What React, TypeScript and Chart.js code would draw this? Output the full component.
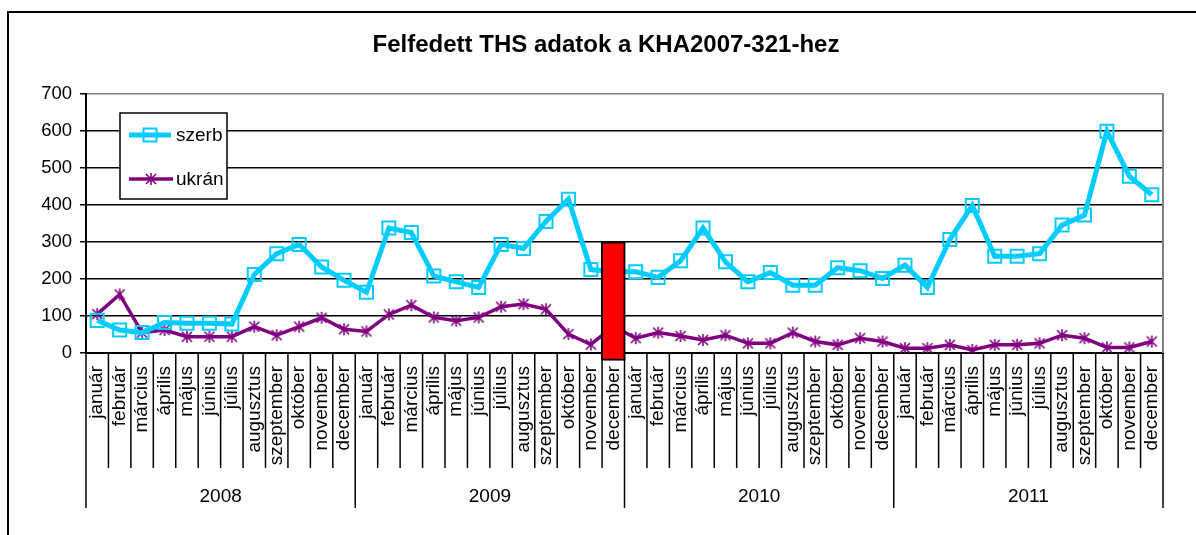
import React, { useEffect, useRef } from "react";
import { Chart, registerables } from "chart.js";

Chart.register(...registerables);

const TITLE = "Felfedett THS adatok a KHA2007-321-hez";
const MONTHS = ["január", "február", "március", "április", "május", "június", "július", "augusztus", "szeptember", "október", "november", "december"];
const YEARS = ["2008", "2009", "2010", "2011"];
const Y_TICKS = [0, 100, 200, 300, 400, 500, 600, 700];

const SZERB_LABEL = "szerb";
const SZERB = [
  88, 62, 55, 82, 80, 80, 78, 212, 268, 293, 232, 196,
  164, 337, 325, 208, 192, 177, 293, 282, 355, 415, 225, 220,
  219, 204, 249, 337, 246, 192, 217, 183, 183, 230, 222, 201,
  237, 177, 306, 398, 261, 261, 268, 345, 372, 598, 477, 427,
];

const UKRAN_LABEL = "ukrán";
const UKRAN = [
  105, 158, 55, 62, 44, 44, 44, 71, 48, 71, 95, 64,
  58, 104, 129, 96, 87, 96, 125, 132, 118, 51, 23, 72,
  40, 55, 46, 35, 48, 26, 26, 55, 31, 22, 40, 31,
  13, 13, 22, 8, 22, 22, 26, 48, 40, 15, 15, 31,
];

// red marker bar at 2009 december
const HIGHLIGHT_INDEX = 23;
const HIGHLIGHT_RANGE = [-20, 300];

const CATEGORIES = YEARS.flatMap(() => MONTHS);
const HIGHLIGHT = CATEGORIES.map((_, i) => (i === HIGHLIGHT_INDEX ? HIGHLIGHT_RANGE : null));

const FONT = "'Liberation Sans', Arial, sans-serif";
const SZERB_COLOR = "#00CCFF";
const UKRAN_COLOR = "#800080";

function makeAsterisk(): HTMLCanvasElement {
  const c = document.createElement("canvas");
  c.width = 14;
  c.height = 14;
  const g = c.getContext("2d")!;
  g.strokeStyle = UKRAN_COLOR;
  g.lineWidth = 1.6;
  g.beginPath();
  g.moveTo(7, 1);
  g.lineTo(7, 13);
  g.moveTo(2, 2);
  g.lineTo(12, 12);
  g.moveTo(12, 2);
  g.lineTo(2, 12);
  g.stroke();
  return c;
}

export default function App() {
  const ref = useRef<HTMLCanvasElement | null>(null);

  useEffect(() => {
    if (!ref.current) return;
    const star = makeAsterisk();

    const extras = {
      id: "extras",
      afterDraw(chart: any) {
        const ctx = chart.ctx;
        const area = chart.chartArea;
        const xs = chart.scales.x;
        const n = CATEGORIES.length;
        const half = (xs.getPixelForValue(1) - xs.getPixelForValue(0)) / 2;
        ctx.save();
        // title
        ctx.fillStyle = "#000";
        ctx.font = `bold 24px ${FONT}`;
        ctx.textAlign = "center";
        ctx.textBaseline = "middle";
        ctx.fillText(TITLE, 606, 45);
        // right gray border
        ctx.strokeStyle = "#808080";
        ctx.lineWidth = 2;
        ctx.beginPath();
        ctx.moveTo(area.right, area.top);
        ctx.lineTo(area.right, area.bottom);
        ctx.stroke();
        // category separators and year groups
        ctx.strokeStyle = "#000";
        ctx.lineWidth = 1.5;
        for (let i = 0; i <= n; i++) {
          const bx = i < n ? xs.getPixelForValue(i) - half : xs.getPixelForValue(n - 1) + half;
          const isYear = i % MONTHS.length === 0;
          ctx.beginPath();
          ctx.moveTo(bx, area.bottom);
          ctx.lineTo(bx, area.bottom + (isYear ? 155 : 115));
          ctx.stroke();
        }
        ctx.fillStyle = "#000";
        ctx.font = `19px ${FONT}`;
        ctx.textAlign = "center";
        ctx.textBaseline = "middle";
        YEARS.forEach((y, k) => {
          const a = xs.getPixelForValue(k * MONTHS.length) - half;
          const b = xs.getPixelForValue((k + 1) * MONTHS.length - 1) + half;
          ctx.fillText(y, (a + b) / 2, area.bottom + 144);
        });
        // legend box
        const lx = area.left + 34;
        const ly = area.top + 19.5;
        ctx.fillStyle = "#fff";
        ctx.fillRect(lx, ly, 107, 86);
        ctx.strokeStyle = "#000";
        ctx.lineWidth = 1.5;
        ctx.strokeRect(lx, ly, 107, 86);
        // szerb entry
        const y1 = ly + 22;
        ctx.strokeStyle = SZERB_COLOR;
        ctx.lineWidth = 5;
        ctx.beginPath();
        ctx.moveTo(lx + 9, y1);
        ctx.lineTo(lx + 51, y1);
        ctx.stroke();
        ctx.lineWidth = 2;
        ctx.strokeRect(lx + 23.5, y1 - 6.5, 13, 13);
        ctx.fillStyle = "#000";
        ctx.textAlign = "left";
        ctx.fillText(SZERB_LABEL, lx + 56, y1 + 1);
        // ukrán entry
        const y2 = ly + 66;
        ctx.strokeStyle = UKRAN_COLOR;
        ctx.lineWidth = 3.5;
        ctx.beginPath();
        ctx.moveTo(lx + 9, y2);
        ctx.lineTo(lx + 53, y2);
        ctx.stroke();
        ctx.drawImage(star, lx + 31 - 7, y2 - 7);
        ctx.fillStyle = "#000";
        ctx.fillText(UKRAN_LABEL, lx + 56, y2 + 1);
        ctx.restore();
      },
    };

    const chart = new Chart(ref.current, {
      type: "bar",
      data: {
        labels: CATEGORIES,
        datasets: [
          {
            type: "bar",
            label: "",
            data: HIGHLIGHT as any,
            backgroundColor: "#FF0000",
            borderColor: "#000",
            borderWidth: 2,
            borderSkipped: false,
            barThickness: 24,
            clip: false as any,
            order: 0,
          },
          {
            type: "line",
            label: SZERB_LABEL,
            data: SZERB,
            borderColor: SZERB_COLOR,
            borderWidth: 5,
            tension: 0,
            pointStyle: "rect",
            pointRadius: 9.2,
            pointBorderWidth: 2,
            pointBorderColor: SZERB_COLOR,
            pointBackgroundColor: "rgba(0,0,0,0)",
            order: 1,
          },
          {
            type: "line",
            label: UKRAN_LABEL,
            data: UKRAN,
            borderColor: UKRAN_COLOR,
            borderWidth: 3.5,
            tension: 0,
            pointStyle: star as any,
            pointRadius: 7,
            order: 2,
          },
        ],
      },
      options: {
        animation: false,
        responsive: false,
        maintainAspectRatio: false,
        layout: { padding: { left: 10, right: 33, top: 93.5, bottom: 0 } },
        plugins: {
          legend: { display: false },
          tooltip: { enabled: false },
          title: { display: false },
        },
        scales: {
          x: {
            type: "category",
            offset: true,
            grid: { display: true, drawOnChartArea: false, drawTicks: false },
            border: { display: true, color: "#000", width: 2 },
            ticks: {
              autoSkip: false,
              minRotation: 90,
              maxRotation: 90,
              padding: 13,
              color: "#000",
              font: { family: FONT, size: 19 },
            },
            afterFit(scale: any) {
              scale.height = 182;
            },
          },
          y: {
            min: 0,
            max: 700,
            afterBuildTicks(scale: any) {
              scale.ticks = Y_TICKS.map((v) => ({ value: v }));
            },
            grid: {
              color: (c: any) => (c.tick && c.tick.value === 700 ? "#808080" : "#000"),
              lineWidth: 1.5,
              tickLength: 6,
              tickColor: "#000",
            },
            border: { display: true, color: "#000", width: 2 },
            ticks: {
              padding: 8,
              color: "#000",
              font: { family: FONT, size: 18.5 },
            },
            afterFit(scale: any) {
              scale.width = 76;
            },
          },
        },
      },
      plugins: [extras],
    });
    return () => chart.destroy();
  }, []);

  return (
    <div style={{ position: "fixed", left: 0, top: 0, width: 1196, height: 535, overflow: "hidden", background: "#fff" }}>
      <div style={{ position: "absolute", left: 7, top: 11, width: 1250, height: 600, border: "2px solid #000", boxSizing: "border-box" }} />
      <canvas ref={ref} width={1196} height={535} style={{ position: "absolute", left: 0, top: 0, width: 1196, height: 535 }} />
    </div>
  );
}
